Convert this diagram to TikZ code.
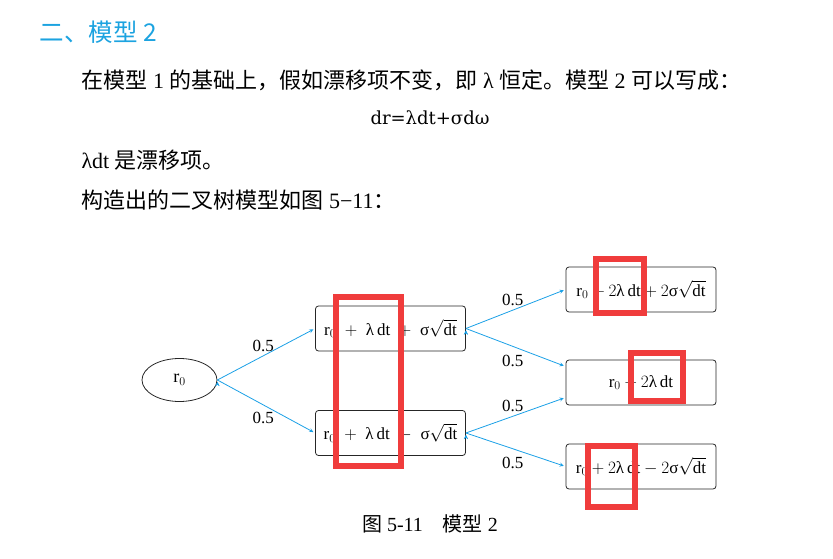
\documentclass[tikz,border=0pt]{standalone}
\usepackage{amsmath}
\usepackage{fontspec}
\setmainfont{Liberation Serif}
\newfontfamily\cjk{Noto Sans CJK SC}
\newfontfamily\eqfont{DejaVu Serif}
\usetikzlibrary{arrows,positioning,shapes,fit,calc}
\definecolor{headblue}{HTML}{1CA3E0}
\definecolor{arrowblue}{HTML}{1AA0E6}
\definecolor{markred}{HTML}{F03C3C}

\begin{document}
\begin{tikzpicture}[x=1pt,y=-1pt,auto,
  box node/.style={rectangle,rounded corners=3pt,draw=black!85,line width=0.8pt,minimum width=150pt,minimum height=45pt,inner sep=0pt,font=\fontsize{17}{17}\selectfont},
  start node/.style={ellipse,draw=black!85,line width=0.8pt,minimum width=75pt,minimum height=43pt,inner sep=0pt,font=\fontsize{18}{18}\selectfont},
  branch/.style={arrowblue,line width=0.8pt,-stealth,shorten >=2pt},
  prob/.style={font=\fontsize{17}{17}\selectfont,text=black,inner sep=2pt,pos=0.47},
  mark box/.style={markred,line width=6pt}]%page size
\useasboundingbox (0,0) rectangle (833,559);
\begin{scope}[every node/.style={anchor=west,font=\fontsize{22}{22}\selectfont}]
\node[text=headblue,font=\fontsize{24.5}{24.5}\selectfont\cjk] (title) at (36,32) {二、模型 2};
\node (line1) at (78,80) {{\cjk 在模型} 1 {\cjk 的基础上，假如漂移项不变，即} λ {\cjk 恒定。模型} 2 {\cjk 可以写成：}};
\node[anchor=center,font=\fontsize{18}{18}\selectfont\eqfont] (eq) at (430,118) {dr=λdt+σdω};
\node (line2) at (78,160) {λdt {\cjk 是漂移项。}};
\node (line3) at (78,200) {{\cjk 构造出的二叉树模型如图} 5−11{\cjk ：}};
\node[anchor=center,font=\fontsize{20}{20}\selectfont] (cap) at (430,524) {{\cjk 图} 5-11\quad{\cjk 模型} 2};
\end{scope}
\begin{scope}
\node[start node] (r0) at (179.5,380) {$\text{r}_0$};
\node[box node] (u1) at (390.5,328.5) {$\text{r}_0\;+\;\text{λ}\,\text{dt}\;+\;\text{σ}\sqrt{\text{dt}}$};
\node[box node] (d1) at (390.5,433) {$\text{r}_0\;+\;\text{λ}\,\text{dt}\;-\;\text{σ}\sqrt{\text{dt}}$};
\node[box node] (uu) at (641,289.5) {$\text{r}_0+2\text{λ}\,\text{dt}+2\text{σ}\sqrt{\text{dt}}$};
\node[box node] (mm) at (641,382.5) {$\text{r}_0+2\text{λ}\,\text{dt}$};
\node[box node] (dd) at (641,466.5) {$\text{r}_0+2\text{λ}\,\text{dt}-2\text{σ}\sqrt{\text{dt}}$};
\end{scope}
\begin{scope}
\draw[branch] (r0.east) edge node[prob,above=2pt]{0.5} (u1.west);
\draw[branch] (r0.east) edge node[prob,below=5pt]{0.5} (d1.west);
\draw[branch] (u1.east) edge node[prob,above=2pt]{0.5} (uu.west);
\draw[branch] (u1.east) edge node[prob,below=6pt]{0.5} ([yshift=16pt]mm.west);
\draw[branch] (d1.east) edge node[prob,above=2pt]{0.5} ([yshift=-15pt]mm.west);
\draw[branch] (d1.east) edge node[prob,below=6pt]{0.5} (dd.west);
\end{scope}
\begin{scope}
\draw[mark box] (336,297) rectangle (401,466);
\draw[mark box] (596,259) rectangle (644,313);
\draw[mark box] (631,353) rectangle (683,401);
\draw[mark box] (588,446) rectangle (635,507);
\end{scope}
\end{tikzpicture}
\end{document}
